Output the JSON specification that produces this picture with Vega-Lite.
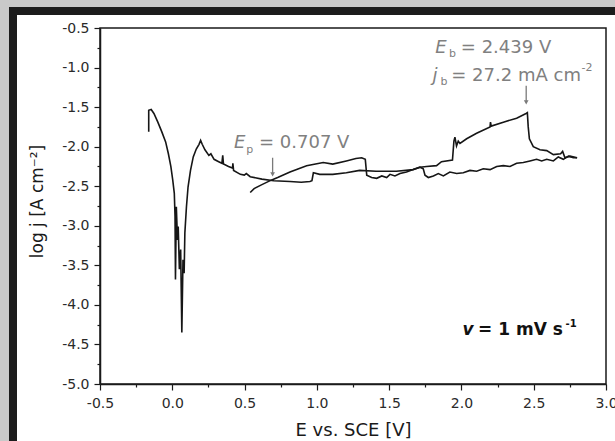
{
  "$schema": "https://vega.github.io/schema/vega-lite/v6.json",
  "background": "white",
  "padding": 0,
  "config": {"concat": {"spacing": 0}, "font": "DejaVu Sans", "axis": {"labelOverlap": false, "labelBound": false, "labelFlush": false}},
  "datasets": {
    "curve": [
      {"E": -0.163, "L": -1.81, "scan": "forward"},
      {"E": -0.163, "L": -1.54, "scan": "forward"},
      {"E": -0.146, "L": -1.53, "scan": "forward"},
      {"E": -0.127, "L": -1.58, "scan": "forward"},
      {"E": -0.1, "L": -1.69, "scan": "forward"},
      {"E": -0.073, "L": -1.81, "scan": "forward"},
      {"E": -0.046, "L": -1.94, "scan": "forward"},
      {"E": -0.027, "L": -2.09, "scan": "forward"},
      {"E": -0.01, "L": -2.25, "scan": "forward"},
      {"E": 0.003, "L": -2.42, "scan": "forward"},
      {"E": 0.014, "L": -2.59, "scan": "forward"},
      {"E": 0.019, "L": -2.88, "scan": "forward"},
      {"E": 0.022, "L": -3.68, "scan": "forward"},
      {"E": 0.028, "L": -2.76, "scan": "forward"},
      {"E": 0.036, "L": -3.18, "scan": "forward"},
      {"E": 0.041, "L": -3.01, "scan": "forward"},
      {"E": 0.049, "L": -3.55, "scan": "forward"},
      {"E": 0.058, "L": -3.3, "scan": "forward"},
      {"E": 0.066, "L": -4.35, "scan": "forward"},
      {"E": 0.074, "L": -3.43, "scan": "forward"},
      {"E": 0.082, "L": -3.6, "scan": "forward"},
      {"E": 0.087, "L": -3.09, "scan": "forward"},
      {"E": 0.098, "L": -2.76, "scan": "forward"},
      {"E": 0.109, "L": -2.51, "scan": "forward"},
      {"E": 0.126, "L": -2.3, "scan": "forward"},
      {"E": 0.145, "L": -2.13, "scan": "forward"},
      {"E": 0.166, "L": -2.03, "scan": "forward"},
      {"E": 0.185, "L": -1.97, "scan": "forward"},
      {"E": 0.196, "L": -1.92, "scan": "forward"},
      {"E": 0.207, "L": -1.97, "scan": "forward"},
      {"E": 0.226, "L": -2.04, "scan": "forward"},
      {"E": 0.253, "L": -2.11, "scan": "forward"},
      {"E": 0.267, "L": -2.09, "scan": "forward"},
      {"E": 0.289, "L": -2.16, "scan": "forward"},
      {"E": 0.321, "L": -2.19, "scan": "forward"},
      {"E": 0.343, "L": -2.21, "scan": "forward"},
      {"E": 0.349, "L": -2.11, "scan": "forward"},
      {"E": 0.354, "L": -2.22, "scan": "forward"},
      {"E": 0.389, "L": -2.25, "scan": "forward"},
      {"E": 0.417, "L": -2.27, "scan": "forward"},
      {"E": 0.419, "L": -2.21, "scan": "forward"},
      {"E": 0.424, "L": -2.3, "scan": "forward"},
      {"E": 0.471, "L": -2.35, "scan": "forward"},
      {"E": 0.498, "L": -2.36, "scan": "forward"},
      {"E": 0.512, "L": -2.34, "scan": "forward"},
      {"E": 0.539, "L": -2.38, "scan": "forward"},
      {"E": 0.62, "L": -2.41, "scan": "forward"},
      {"E": 0.702, "L": -2.43, "scan": "forward"},
      {"E": 0.814, "L": -2.44, "scan": "forward"},
      {"E": 0.892, "L": -2.45, "scan": "forward"},
      {"E": 0.952, "L": -2.44, "scan": "forward"},
      {"E": 0.966, "L": -2.43, "scan": "forward"},
      {"E": 0.976, "L": -2.33, "scan": "forward"},
      {"E": 1.02, "L": -2.35, "scan": "forward"},
      {"E": 1.11, "L": -2.35, "scan": "forward"},
      {"E": 1.204, "L": -2.33, "scan": "forward"},
      {"E": 1.296, "L": -2.3, "scan": "forward"},
      {"E": 1.41, "L": -2.31, "scan": "forward"},
      {"E": 1.55, "L": -2.31, "scan": "forward"},
      {"E": 1.666, "L": -2.29, "scan": "forward"},
      {"E": 1.713, "L": -2.26, "scan": "forward"},
      {"E": 1.759, "L": -2.25, "scan": "forward"},
      {"E": 1.828, "L": -2.24, "scan": "forward"},
      {"E": 1.862, "L": -2.19, "scan": "forward"},
      {"E": 1.938, "L": -2.17, "scan": "forward"},
      {"E": 1.948, "L": -1.93, "scan": "forward"},
      {"E": 1.955, "L": -1.88, "scan": "forward"},
      {"E": 1.966, "L": -1.99, "scan": "forward"},
      {"E": 1.978, "L": -1.93, "scan": "forward"},
      {"E": 1.99, "L": -1.96, "scan": "forward"},
      {"E": 2.036, "L": -1.9, "scan": "forward"},
      {"E": 2.105, "L": -1.83, "scan": "forward"},
      {"E": 2.198, "L": -1.75, "scan": "forward"},
      {"E": 2.201, "L": -1.69, "scan": "forward"},
      {"E": 2.206, "L": -1.74, "scan": "forward"},
      {"E": 2.29, "L": -1.69, "scan": "forward"},
      {"E": 2.382, "L": -1.64, "scan": "forward"},
      {"E": 2.447, "L": -1.58, "scan": "forward"},
      {"E": 2.456, "L": -1.57, "scan": "forward"},
      {"E": 2.462, "L": -1.75, "scan": "forward"},
      {"E": 2.47, "L": -1.9, "scan": "forward"},
      {"E": 2.497, "L": -2.0, "scan": "forward"},
      {"E": 2.543, "L": -2.04, "scan": "forward"},
      {"E": 2.59, "L": -2.05, "scan": "forward"},
      {"E": 2.636, "L": -2.1, "scan": "forward"},
      {"E": 2.686, "L": -2.09, "scan": "forward"},
      {"E": 2.7, "L": -2.06, "scan": "forward"},
      {"E": 2.716, "L": -2.14, "scan": "forward"},
      {"E": 2.751, "L": -2.12, "scan": "forward"},
      {"E": 2.8, "L": -2.14, "scan": "forward"},
      {"E": 2.8, "L": -2.14, "scan": "reverse"},
      {"E": 2.774, "L": -2.14, "scan": "reverse"},
      {"E": 2.74, "L": -2.12, "scan": "reverse"},
      {"E": 2.705, "L": -2.16, "scan": "reverse"},
      {"E": 2.67, "L": -2.13, "scan": "reverse"},
      {"E": 2.636, "L": -2.18, "scan": "reverse"},
      {"E": 2.59, "L": -2.16, "scan": "reverse"},
      {"E": 2.555, "L": -2.18, "scan": "reverse"},
      {"E": 2.52, "L": -2.16, "scan": "reverse"},
      {"E": 2.474, "L": -2.18, "scan": "reverse"},
      {"E": 2.428, "L": -2.2, "scan": "reverse"},
      {"E": 2.382, "L": -2.21, "scan": "reverse"},
      {"E": 2.336, "L": -2.25, "scan": "reverse"},
      {"E": 2.29, "L": -2.24, "scan": "reverse"},
      {"E": 2.244, "L": -2.25, "scan": "reverse"},
      {"E": 2.198, "L": -2.29, "scan": "reverse"},
      {"E": 2.151, "L": -2.28, "scan": "reverse"},
      {"E": 2.105, "L": -2.31, "scan": "reverse"},
      {"E": 2.059, "L": -2.3, "scan": "reverse"},
      {"E": 2.013, "L": -2.33, "scan": "reverse"},
      {"E": 1.967, "L": -2.34, "scan": "reverse"},
      {"E": 1.92, "L": -2.32, "scan": "reverse"},
      {"E": 1.875, "L": -2.37, "scan": "reverse"},
      {"E": 1.84, "L": -2.34, "scan": "reverse"},
      {"E": 1.806, "L": -2.37, "scan": "reverse"},
      {"E": 1.771, "L": -2.39, "scan": "reverse"},
      {"E": 1.748, "L": -2.36, "scan": "reverse"},
      {"E": 1.736, "L": -2.28, "scan": "reverse"},
      {"E": 1.713, "L": -2.26, "scan": "reverse"},
      {"E": 1.666, "L": -2.29, "scan": "reverse"},
      {"E": 1.62, "L": -2.32, "scan": "reverse"},
      {"E": 1.575, "L": -2.34, "scan": "reverse"},
      {"E": 1.54, "L": -2.37, "scan": "reverse"},
      {"E": 1.506, "L": -2.35, "scan": "reverse"},
      {"E": 1.483, "L": -2.39, "scan": "reverse"},
      {"E": 1.449, "L": -2.37, "scan": "reverse"},
      {"E": 1.414, "L": -2.4, "scan": "reverse"},
      {"E": 1.379, "L": -2.39, "scan": "reverse"},
      {"E": 1.345, "L": -2.36, "scan": "reverse"},
      {"E": 1.335, "L": -2.16, "scan": "reverse"},
      {"E": 1.31, "L": -2.14, "scan": "reverse"},
      {"E": 1.27, "L": -2.15, "scan": "reverse"},
      {"E": 1.204, "L": -2.18, "scan": "reverse"},
      {"E": 1.11, "L": -2.22, "scan": "reverse"},
      {"E": 1.044, "L": -2.2, "scan": "reverse"},
      {"E": 0.929, "L": -2.24, "scan": "reverse"},
      {"E": 0.814, "L": -2.32, "scan": "reverse"},
      {"E": 0.729, "L": -2.39, "scan": "reverse"},
      {"E": 0.688, "L": -2.42, "scan": "reverse"},
      {"E": 0.62, "L": -2.48, "scan": "reverse"},
      {"E": 0.566, "L": -2.53, "scan": "reverse"},
      {"E": 0.539, "L": -2.58, "scan": "reverse"}
    ],
    "arrows": [
      {"E": 0.694, "Ltop": -2.14, "L": -2.35},
      {"E": 2.448, "Ltop": -1.23, "L": -1.44}
    ],
    "notes": [
      {"E": 0.427, "L": -2.02, "text": "E", "part": "symbol"},
      {"E": 0.512, "L": -2.08, "text": "p", "part": "index"},
      {"E": 0.6, "L": -2.02, "text": "= 0.707 V", "part": "value"},
      {"E": 1.819, "L": -0.812, "text": "E", "part": "symbol"},
      {"E": 1.914, "L": -0.87, "text": "b", "part": "index"},
      {"E": 1.996, "L": -0.812, "text": "= 2.439 V", "part": "value"},
      {"E": 1.8, "L": -1.17, "text": "j", "part": "symbol"},
      {"E": 1.855, "L": -1.22, "text": "b", "part": "index"},
      {"E": 1.93, "L": -1.17, "text": "= 27.2 mA cm", "part": "value"},
      {"E": 2.83, "L": -1.04, "text": "-2", "part": "index"},
      {"E": 2.008, "L": -4.38, "text": "v", "part": "rateSymbol"},
      {"E": 2.115, "L": -4.38, "text": "= 1 mV s", "part": "rateValue"},
      {"E": 2.72, "L": -4.28, "text": "-1", "part": "rateIndex"}
    ]
  },
  "bounds": "flush",
  "spacing": 0,
  "hconcat": [
    {"width": 9, "height": 441, "view": {"fill": "#c9c9c9", "stroke": null}, "data": {"values": []}, "mark": "point"},
    {
      "bounds": "flush",
      "spacing": 0,
      "vconcat": [
        {"width": 606, "height": 7, "view": {"fill": "#c9c9c9", "stroke": null}, "data": {"values": []}, "mark": "point"},
        {"width": 606, "height": 8, "view": {"fill": "#1c1c1c", "stroke": null}, "data": {"values": []}, "mark": "point"},
        {
          "bounds": "flush",
          "spacing": 0,
          "hconcat": [
            {"width": 8, "height": 426, "view": {"fill": "#1c1c1c", "stroke": null}, "data": {"values": []}, "mark": "point"},
            {"width": 83, "height": 426, "view": {"stroke": null}, "data": {"values": []}, "mark": "point"},
            {
              "bounds": "flush",
              "spacing": 0,
              "vconcat": [
                {"width": 506, "height": 13, "view": {"stroke": null}, "data": {"values": []}, "mark": "point"},
                {
                  "width": 506,
                  "height": 356,
                  "view": {"stroke": "#1a1a1a", "strokeWidth": 1.5},
                  "encoding": {
                    "x": {
                      "field": "E", "type": "quantitative", "title": "E vs. SCE [V]",
                      "scale": {"domain": [-0.5, 3.0], "nice": false, "zero": false},
                      "axis": {
                        "values": [-0.5, -0.25, 0, 0.25, 0.5, 0.75, 1, 1.25, 1.5, 1.75, 2, 2.25, 2.5, 2.75, 3],
                        "labelExpr": "abs(round(datum.value*4)) % 2 == 0 ? replace(format(datum.value, '.1f'), '\u2212', '-') : ''",
                        "labelFont": "DejaVu Sans", "labelFontSize": 14, "labelColor": "#2a2a2a",
                        "labelPadding": 6, "labelOverlap": false, "labelFlush": false, "labelBound": false,
                        "tickSize": {"condition": {"test": "abs(round(datum.value*4)) % 2 == 0", "value": 6}, "value": 3},
                        "tickColor": "#1a1a1a", "tickWidth": 1.2,
                        "domainColor": "#1a1a1a", "domainWidth": 1.5, "grid": false,
                        "titleFont": "DejaVu Sans", "titleFontSize": 18,
                        "titleFontWeight": "normal", "titleColor": "#1a1a1a", "titlePadding": 11
                      }
                    },
                    "y": {
                      "field": "L", "type": "quantitative", "title": "log j [A cm⁻²]",
                      "scale": {"domain": [-5.0, -0.5], "nice": false, "zero": false},
                      "axis": {
                        "values": [-5, -4.75, -4.5, -4.25, -4, -3.75, -3.5, -3.25, -3, -2.75, -2.5, -2.25, -2, -1.75, -1.5, -1.25, -1, -0.75, -0.5],
                        "labelExpr": "abs(round(datum.value*4)) % 2 == 0 ? replace(format(datum.value, '.1f'), '\u2212', '-') : ''",
                        "labelFont": "DejaVu Sans", "labelFontSize": 14, "labelColor": "#2a2a2a",
                        "labelPadding": 5, "labelOverlap": false, "labelFlush": false, "labelBound": false,
                        "tickSize": {"condition": {"test": "abs(round(datum.value*4)) % 2 == 0", "value": 6}, "value": 3},
                        "tickColor": "#1a1a1a", "tickWidth": 1.2,
                        "domainColor": "#1a1a1a", "domainWidth": 1.5, "grid": false,
                        "titleFont": "DejaVu Sans", "titleFontSize": 17,
                        "titleFontWeight": "normal", "titleColor": "#1a1a1a", "titlePadding": 15, "titleY": 173
                      }
                    }
                  },
                  "layer": [
                    {
                      "data": {"name": "curve"},
                      "mark": {"type": "line", "color": "#161616", "strokeWidth": 1.6, "clip": true},
                      "encoding": {
                        "detail": {"field": "scan"},
                        "order": {"value": null}
                      }
                    },
                    {
                      "data": {"name": "arrows"},
                      "mark": {"type": "rule", "color": "#7a7a7a", "strokeWidth": 1.3},
                      "encoding": {"y2": {"field": "Ltop"}}
                    },
                    {
                      "data": {"name": "arrows"},
                      "mark": {"type": "point", "shape": "triangle-down", "filled": true, "color": "#7a7a7a", "size": 22, "opacity": 1},
                      "encoding": {}
                    },
                    {
                      "data": {"name": "notes"},
                      "transform": [{"filter": "datum.part == 'symbol'"}],
                      "mark": {"type": "text", "align": "left", "baseline": "alphabetic", "font": "DejaVu Sans", "fontSize": 18, "fontStyle": "italic", "color": "#808080"},
                      "encoding": {"text": {"field": "text"}}
                    },
                    {
                      "data": {"name": "notes"},
                      "transform": [{"filter": "datum.part == 'value'"}],
                      "mark": {"type": "text", "align": "left", "baseline": "alphabetic", "font": "DejaVu Sans", "fontSize": 18, "color": "#808080"},
                      "encoding": {"text": {"field": "text"}}
                    },
                    {
                      "data": {"name": "notes"},
                      "transform": [{"filter": "datum.part == 'index'"}],
                      "mark": {"type": "text", "align": "left", "baseline": "alphabetic", "font": "DejaVu Sans", "fontSize": 11, "color": "#808080"},
                      "encoding": {"text": {"field": "text"}}
                    },
                    {
                      "data": {"name": "notes"},
                      "transform": [{"filter": "datum.part == 'rateSymbol'"}],
                      "mark": {"type": "text", "align": "left", "baseline": "alphabetic", "font": "DejaVu Sans", "fontSize": 17, "fontStyle": "italic", "fontWeight": "bold", "color": "#111111"},
                      "encoding": {"text": {"field": "text"}}
                    },
                    {
                      "data": {"name": "notes"},
                      "transform": [{"filter": "datum.part == 'rateValue'"}],
                      "mark": {"type": "text", "align": "left", "baseline": "alphabetic", "font": "DejaVu Sans", "fontSize": 17, "fontWeight": "bold", "color": "#111111"},
                      "encoding": {"text": {"field": "text"}}
                    },
                    {
                      "data": {"name": "notes"},
                      "transform": [{"filter": "datum.part == 'rateIndex'"}],
                      "mark": {"type": "text", "align": "left", "baseline": "alphabetic", "font": "DejaVu Sans", "fontSize": 10, "fontWeight": "bold", "color": "#111111"},
                      "encoding": {"text": {"field": "text"}}
                    }
                  ]
                }
              ]
            }
          ]
        }
      ]
    }
  ]
}
